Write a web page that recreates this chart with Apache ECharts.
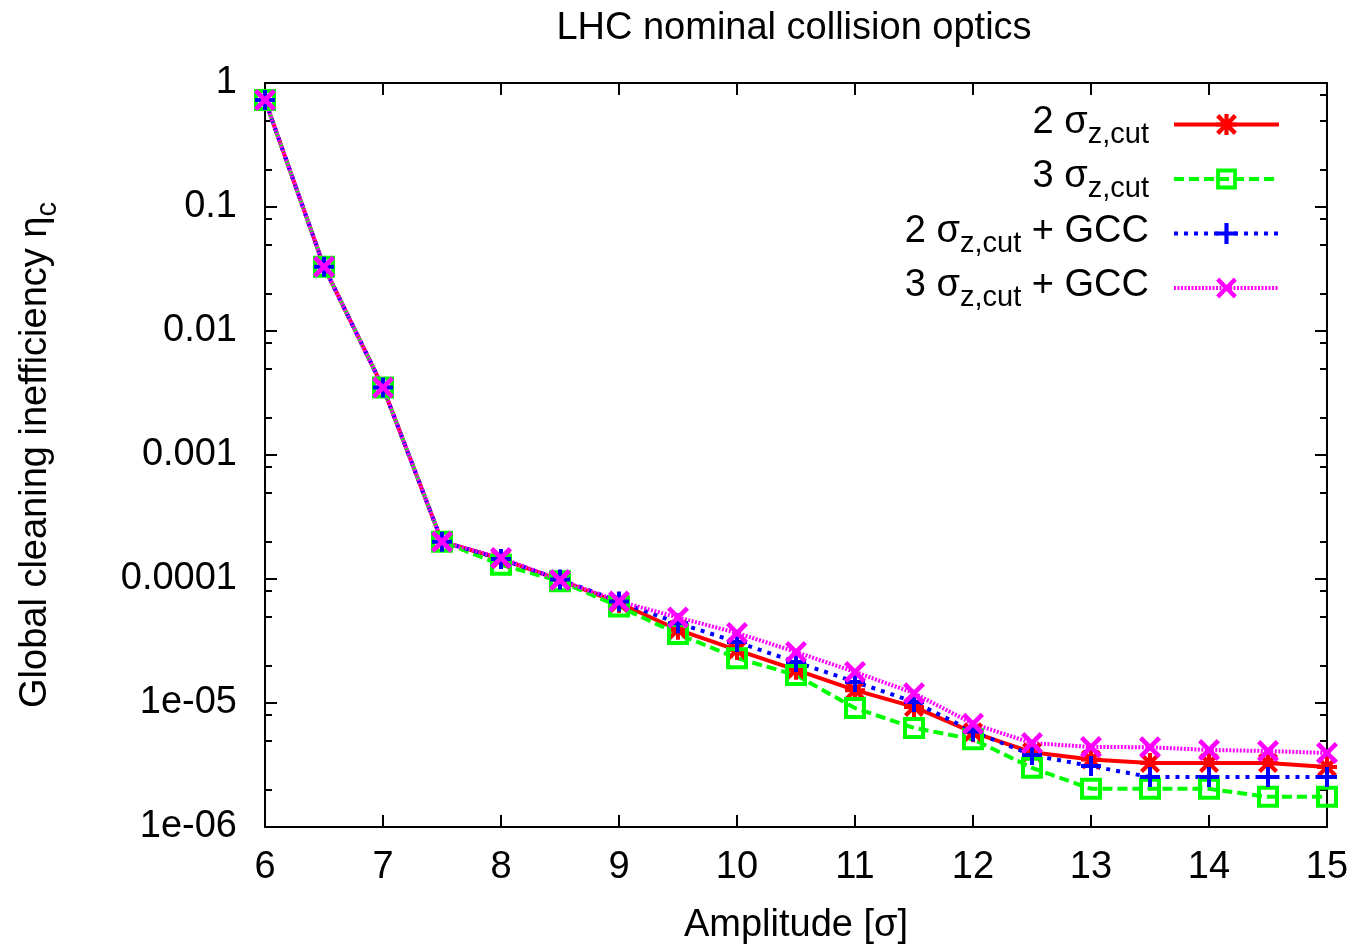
<!DOCTYPE html>
<html>
<head>
<meta charset="utf-8">
<script src="https://cdn.jsdelivr.net/npm/echarts@6/dist/echarts.min.js"></script>
<style>html,body{margin:0;padding:0;background:#fff;}#c{width:1356px;height:945px;}</style>
</head>
<body>
<div id="c"></div>
<script>
// ---------- data ----------
const amplitude = [6, 6.5, 7, 7.5, 8, 8.5, 9, 9.5, 10, 10.5, 11, 11.5, 12, 12.5, 13, 13.5, 14, 14.5, 15];
const cut2      = [0.73, 0.033, 0.0035, 2.0e-4, 1.45e-4, 9.8e-5, 6.4e-5, 3.9e-5, 2.67e-5, 1.85e-5, 1.27e-5, 9.3e-6, 5.8e-6, 4.0e-6, 3.5e-6, 3.28e-6, 3.28e-6, 3.28e-6, 3.05e-6];
const cut3      = [0.73, 0.033, 0.0035, 2.0e-4, 1.30e-4, 9.6e-5, 6.0e-5, 3.6e-5, 2.3e-5, 1.68e-5, 9.1e-6, 6.3e-6, 5.1e-6, 3.0e-6, 2.03e-6, 2.03e-6, 2.03e-6, 1.75e-6, 1.75e-6];
const cut2GCC   = [0.73, 0.033, 0.0035, 2.0e-4, 1.45e-4, 9.9e-5, 6.6e-5, 4.4e-5, 3.1e-5, 2.14e-5, 1.48e-5, 1.02e-5, 5.9e-6, 3.8e-6, 3.1e-6, 2.53e-6, 2.53e-6, 2.53e-6, 2.53e-6];
const cut3GCC   = [0.73, 0.033, 0.0035, 2.0e-4, 1.48e-4, 9.8e-5, 6.6e-5, 4.9e-5, 3.67e-5, 2.58e-5, 1.78e-5, 1.2e-5, 6.8e-6, 4.75e-6, 4.42e-6, 4.4e-6, 4.18e-6, 4.1e-6, 3.95e-6];

const seriesNames = ['2 σz,cut', '3 σz,cut', '2 σz,cut + GCC', '3 σz,cut + GCC'];
const legendMain  = ['2 σ', '3 σ', '2 σ', '3 σ'];
const legendSub   = ['z,cut', 'z,cut', 'z,cut', 'z,cut'];
const legendTail  = ['', '', ' + GCC', ' + GCC'];

const xTickValues = [6, 7, 8, 9, 10, 11, 12, 13, 14, 15];
const yTickValues = [1e-6, 1e-5, 1e-4, 1e-3, 1e-2, 1e-1, 1];
const yTickLabels = ['1e-06', '1e-05', '0.0001', '0.001', '0.01', '0.1', '1'];
const yMinorValues = [
  2e-6, 5e-6, 8e-6, 2e-5, 5e-5, 8e-5, 2e-4, 5e-4, 8e-4,
  2e-3, 5e-3, 8e-3, 2e-2, 5e-2, 8e-2, 0.2, 0.5, 0.8
];

// ---------- styles ----------
const FONT = 'Liberation Sans';
const FS = 38;
const SYM_STAR = 'path://M8 0H12V8H20V12H12V20H8V12H0V8H8Z M0 3L3 0L10 7L17 0L20 3L13 10L20 17L17 20L10 13L3 20L0 17L7 10Z';
const SYM_SQUARE = 'path://M0 0H22V22H0Z M4 4V18H18V4Z';
const SYM_PLUS = 'path://M8 0H12V8H20V12H12V20H8V12H0V8H8Z';
const SYM_X = 'path://M0 3L3 0L10 7L17 0L20 3L13 10L20 17L17 20L10 13L3 20L0 17L7 10Z';

function pairs(ys) { return amplitude.map((x, i) => [x, ys[i]]); }

function mkSeries(name, ys, color, type, width, symbol, size) {
  return {
    name: name, type: 'line', data: pairs(ys), clip: false,
    symbol: symbol, symbolSize: size,
    lineStyle: { color: color, width: width, type: type },
    itemStyle: { color: color },
    emphasis: { disabled: true },
    animation: false
  };
}

function yLabel(v) {
  const k = Math.round(Math.log10(v));
  const idx = yTickValues.findIndex(t => Math.round(Math.log10(t)) === k);
  return idx >= 0 ? yTickLabels[idx] : '';
}

const axisLine = { show: true, onZero: false, lineStyle: { color: '#000', width: 2 } };

const chart = echarts.init(document.getElementById('c'), null, { renderer: 'canvas' });
chart.setOption({
  backgroundColor: '#fff',
  animation: false,
  title: {
    text: 'LHC nominal collision optics',
    left: 794, textAlign: 'center', top: 10, padding: 0,
    textStyle: { fontFamily: FONT, fontSize: FS, fontWeight: 'normal', color: '#000' }
  },
  grid: { left: 265, right: 29, top: 83, bottom: 118, containLabel: false, outerBoundsMode: 'none' },
  legend: {
    orient: 'vertical', right: 70, top: 95, align: 'right',
    itemWidth: 105, itemHeight: 26, itemGap: 5.5,
    selectedMode: false,
    data: seriesNames,
    lineStyle: { width: 4 },
    formatter: function (name) {
      const i = seriesNames.indexOf(name);
      return '{m|' + legendMain[i] + '}{s|' + legendSub[i] + '}' + (legendTail[i] ? '{m|' + legendTail[i] + '}' : '');
    },
    textStyle: {
      fontFamily: FONT, fontSize: FS, color: '#000', padding: [0, 20, 0, 0],
      rich: {
        m: { fontFamily: FONT, fontSize: FS, lineHeight: 42, verticalAlign: 'top', color: '#000' },
        s: { fontFamily: FONT, fontSize: 29, lineHeight: 29, padding: [20, 0, 0, 0], color: '#000' }
      }
    }
  },
  xAxis: [{
    type: 'value', position: 'bottom', min: 6, max: 15, interval: 1,
    name: 'Amplitude [σ]', nameLocation: 'middle', nameGap: 80,
    nameTextStyle: { fontFamily: FONT, fontSize: FS, color: '#000' },
    axisLine: axisLine,
    axisTick: { show: true, inside: true, length: 12, lineStyle: { color: '#000', width: 2 } },
    axisLabel: { fontFamily: FONT, fontSize: FS, color: '#000', margin: 22 },
    splitLine: { show: false }
  }, {
    type: 'value', position: 'top', min: 6, max: 15, interval: 1,
    axisLine: axisLine,
    axisTick: { show: true, inside: true, length: 12, lineStyle: { color: '#000', width: 2 } },
    axisLabel: { show: false }, splitLine: { show: false }
  }],
  yAxis: [{
    type: 'log', logBase: 10, min: 1e-6, max: 1, position: 'left',
    name: '{a|Global cleaning inefficiency η}{b|c}', nameLocation: 'middle', nameGap: 206,
    nameTextStyle: {
      fontFamily: FONT, fontSize: FS, color: '#000',
      rich: {
        a: { fontFamily: FONT, fontSize: FS, lineHeight: 42, verticalAlign: 'top', color: '#000' },
        b: { fontFamily: FONT, fontSize: 29, lineHeight: 29, padding: [20, 0, 0, 0], color: '#000' }
      }
    },
    axisLine: axisLine,
    axisTick: { show: true, inside: true, length: 12, customValues: yTickValues, lineStyle: { color: '#000', width: 2 } },
    axisLabel: { fontFamily: FONT, fontSize: FS, color: '#000', margin: 28, customValues: yTickValues, formatter: yLabel },
    splitLine: { show: false }
  }, {
    type: 'log', logBase: 10, min: 1e-6, max: 1, position: 'left',
    axisLine: { show: false },
    axisTick: { show: true, inside: true, length: 7, customValues: yMinorValues, lineStyle: { color: '#000', width: 2 } },
    axisLabel: { show: false }, splitLine: { show: false }
  }, {
    type: 'log', logBase: 10, min: 1e-6, max: 1, position: 'right',
    axisLine: axisLine,
    axisTick: { show: true, inside: true, length: 12, customValues: yTickValues, lineStyle: { color: '#000', width: 2 } },
    axisLabel: { show: false }, splitLine: { show: false }
  }, {
    type: 'log', logBase: 10, min: 1e-6, max: 1, position: 'right',
    axisLine: { show: false },
    axisTick: { show: true, inside: true, length: 7, customValues: yMinorValues, lineStyle: { color: '#000', width: 2 } },
    axisLabel: { show: false }, splitLine: { show: false }
  }],
  series: [
    mkSeries(seriesNames[0], cut2, '#ff0000', 'solid', 4, SYM_STAR, 20),
    mkSeries(seriesNames[1], cut3, '#00ff00', [10, 5], 4, SYM_SQUARE, 22),
    mkSeries(seriesNames[2], cut2GCC, '#0000ff', [4, 6], 4, SYM_PLUS, 20),
    mkSeries(seriesNames[3], cut3GCC, '#ff00ff', [2, 1.5], 4, SYM_X, 22)
  ]
});
</script>
</body>
</html>
